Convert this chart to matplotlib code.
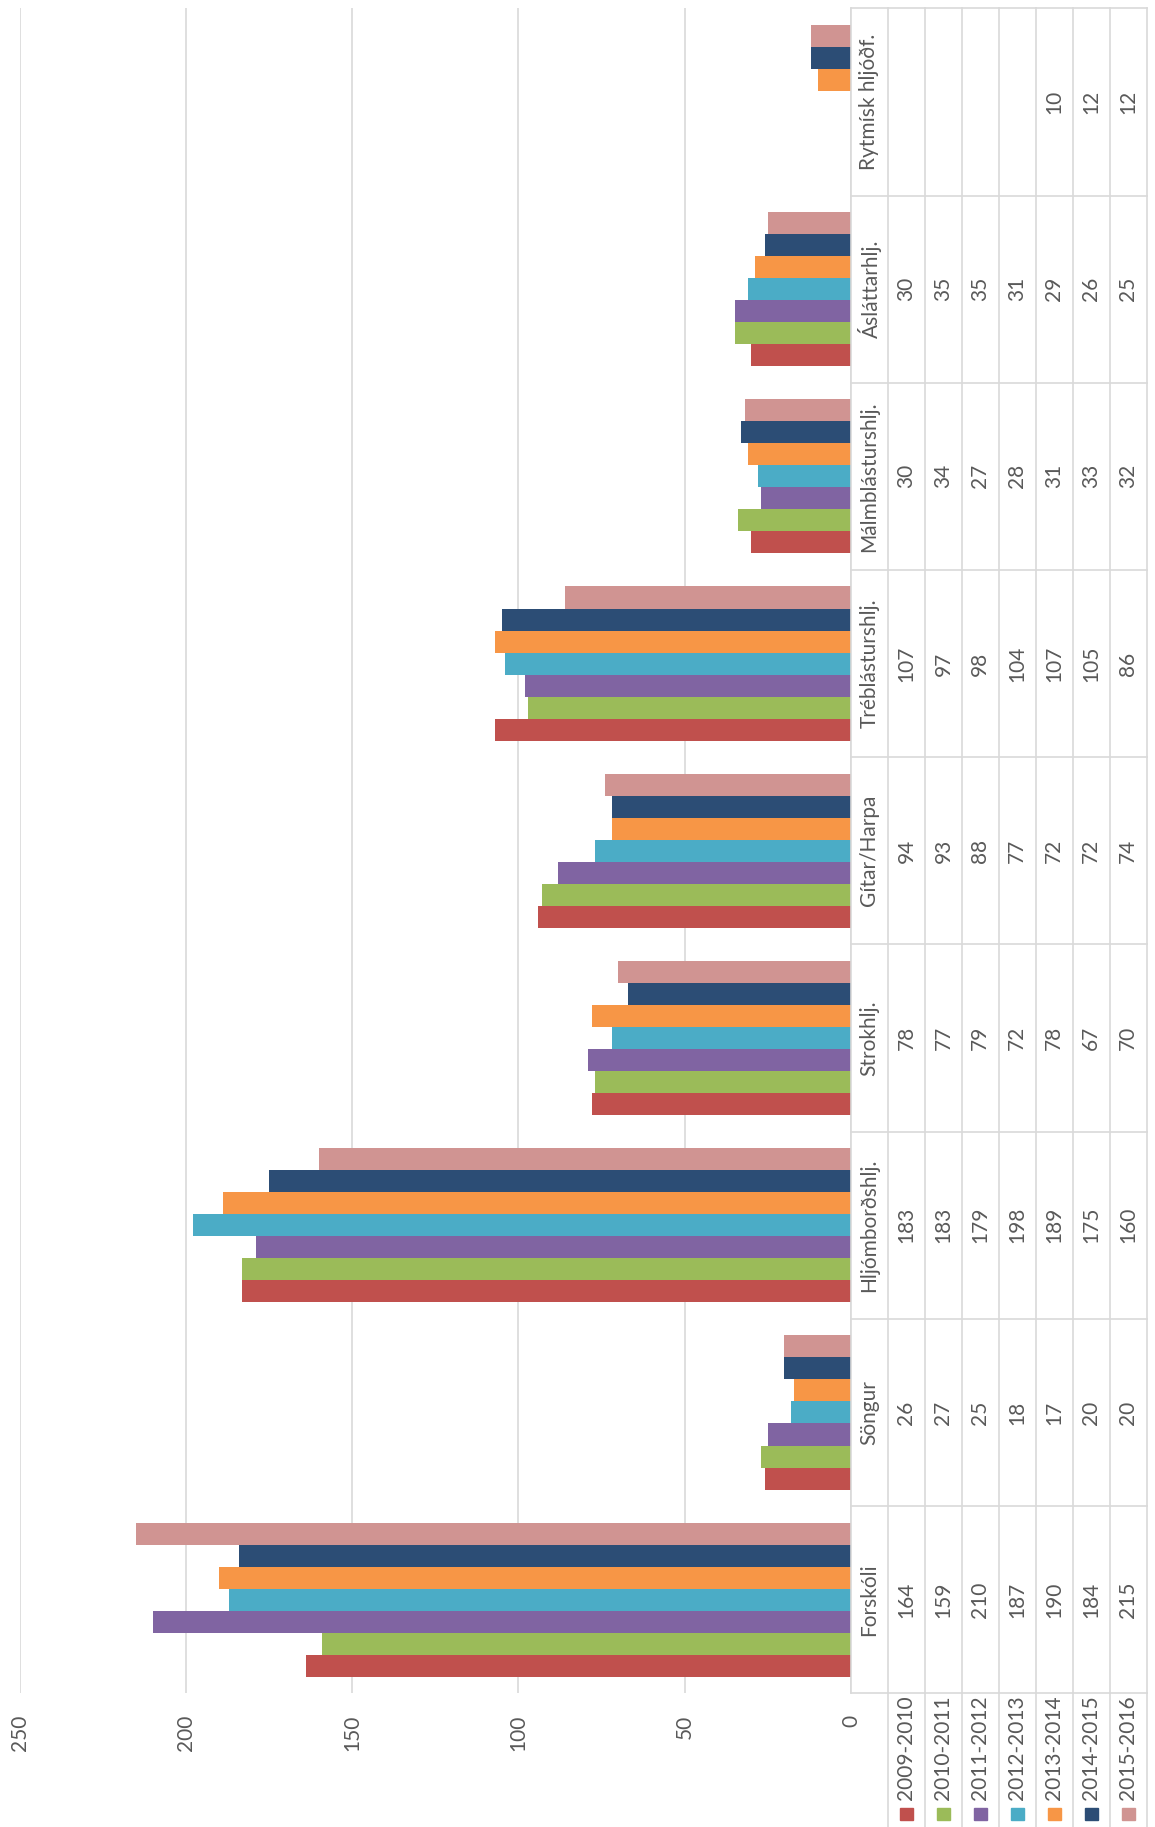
import numpy as np
import matplotlib
matplotlib.use("Agg")
import matplotlib.pyplot as plt
from matplotlib.patches import Rectangle

# --- Data ---
categories = ["Forskóli", "Söngur", "Hljómborðshlj.", "Strokhlj.", "Gítar/Harpa",
              "Tréblásturshlj.", "Málmblásturshlj.", "Ásláttarhlj.", "Rytmísk hljóðf."]
series = ["2009-2010", "2010-2011", "2011-2012", "2012-2013", "2013-2014", "2014-2015", "2015-2016"]
v2009 = [164, 26, 183, 78, 94, 107, 30, 30, None]
v2010 = [159, 27, 183, 77, 93, 97, 34, 35, None]
v2011 = [210, 25, 179, 79, 88, 98, 27, 35, None]
v2012 = [187, 18, 198, 72, 77, 104, 28, 31, None]
v2013 = [190, 17, 189, 78, 72, 107, 31, 29, 10]
v2014 = [184, 20, 175, 67, 72, 105, 33, 26, 12]
v2015 = [215, 20, 160, 70, 74, 86, 32, 25, 12]
values = [v2009, v2010, v2011, v2012, v2013, v2014, v2015]
colors = ["#C0504D", "#9BBB59", "#8064A2", "#4BACC6", "#F79646", "#2C4D75", "#D09492"]
xticks = [0, 50, 100, 150, 200, 250]

# --- Layout (pixels) ---
W, H = 1155, 1827
plot_l, plot_r = 19.7, 851.0
tab_r = 1146.7
top, bot = 8.3, 1693.3
txt = "#595959"
grid = "#D9D9D9"
fs = 15
plt.rcParams["font.family"] = ["Lato", "DejaVu Sans"]

fig = plt.figure(figsize=(W / 100, H / 100), dpi=100)

# --- Bars ---
ax = fig.add_axes([plot_l / W, 1 - bot / H, (plot_r - plot_l) / W, (bot - top) / H])
n = len(categories)
bar_h = 1 / 8.5
for j, (name, vals, col) in enumerate(zip(series, values, colors)):
    idx = [i for i, v in enumerate(vals) if v is not None]
    ys = np.array(idx) + (j - 3) * bar_h
    ax.barh(ys, [vals[i] for i in idx], height=bar_h, color=col, zorder=3)
ax.set_xlim(250, 0)
ax.set_ylim(-0.5, n - 0.5)
ax.set_xticks(xticks)
ax.set_xticklabels([str(t) for t in xticks], rotation=90, fontsize=fs, color=txt)
ax.tick_params(axis="x", length=0, pad=15.6)
ax.set_yticks([])
ax.grid(axis="x", color=grid, lw=1.2, zorder=0)
for s in ax.spines.values():
    s.set_visible(False)

# --- Data table ---
tax = fig.add_axes([plot_r / W, 1 - bot / H, (tab_r - plot_r) / W, (bot - top) / H])
tax.set_xlim(0, 8)
tax.set_ylim(-0.5, n - 0.5)
tax.axis("off")
for k in range(n + 1):
    tax.plot([0, 8], [k - 0.5, k - 0.5], color=grid, lw=1.2, clip_on=False)
for c in range(9):
    tax.plot([c, c], [-0.5, n - 0.5], color=grid, lw=1.2, clip_on=False)
for i, cat in enumerate(categories):
    tax.text(0.5, i, cat, rotation=90, ha="center", va="center", fontsize=fs, color=txt)
    for j, vals in enumerate(values):
        if vals[i] is not None:
            tax.text(j + 1.5, i, str(vals[i]), rotation=90, ha="center", va="center",
                     fontsize=fs, color=txt)

# --- Legend under table ---
lax = fig.add_axes([plot_r / W, 0, (tab_r - plot_r) / W, (H - bot) / H])
lax.set_xlim(0, 8)
lax.set_ylim(H - bot, 0)
lax.axis("off")
for c in range(1, 9):
    lax.plot([c, c], [0, H - bot], color=grid, lw=1.2, clip_on=False)
mw = 13 / ((tab_r - plot_r) / 8)
for j, (name, col) in enumerate(zip(series, colors)):
    lax.add_patch(Rectangle((j + 1.5 - mw / 2, 114.7), mw, 12, color=col))
    lax.text(j + 1.5, 107, name, rotation=90, ha="center", va="bottom", fontsize=fs, color=txt)

fig.savefig("out.png", dpi=100)
